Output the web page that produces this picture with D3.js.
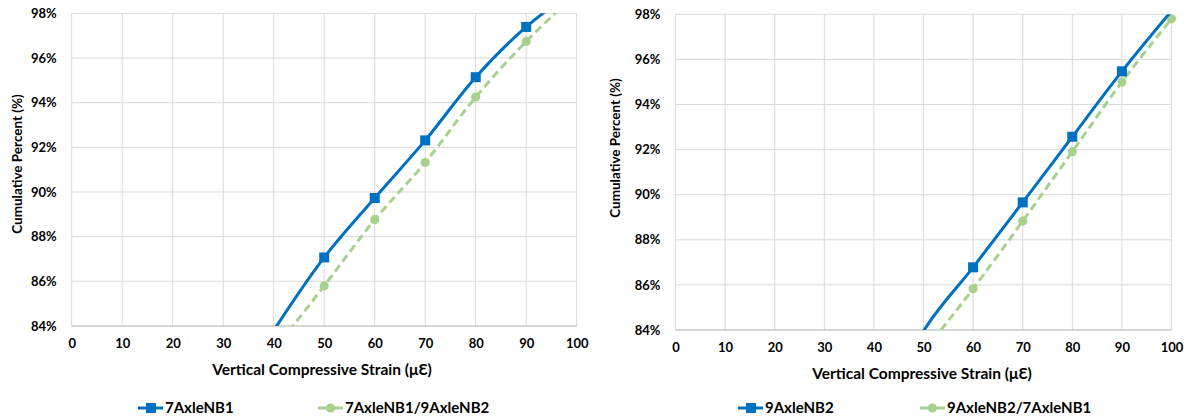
<!DOCTYPE html>
<html>
<head>
<meta charset="utf-8">
<script src="https://cdn.jsdelivr.net/npm/d3@7"></script>
<style>
  body { margin: 0; background: #fff; }
  svg { display: block; font-family: Lato, "Open Sans", sans-serif; font-weight: bold; }
</style>
</head>
<body>
<svg id="chart" width="1185" height="419"></svg>
<script>
// strain values (x), shared by both panels
const strain = [40, 50, 60, 70, 80, 90, 100];

// left panel series (cumulative %)
const left7AxleNB1 = [83.8, 87.07, 89.73, 92.31, 95.14, 97.39, 99.1];
const left7AxleNB1_9AxleNB2 = [82.9, 85.8, 88.76, 91.32, 94.25, 96.74, 98.9];

// right panel series (cumulative %)
const right9AxleNB2 = [79.1, 83.95, 86.78, 89.66, 92.57, 95.47, 98.15];
const right9AxleNB2_7AxleNB1 = [80.0, 83.0, 85.83, 88.83, 91.91, 95.0, 97.8];

const xTicks = [0, 10, 20, 30, 40, 50, 60, 70, 80, 90, 100];
const yTicks = [84, 86, 88, 90, 92, 94, 96, 98];

const xTitle = "Vertical Compressive Strain (\u03bc\u0190)";
const yTitle = "Cumulative Percent (%)";

const BLUE = "#0070C0";
const GREEN = "#A9D18E";
const GRID = "#D9D9D9";

const svg = d3.select("#chart");

function drawPanel(cfg) {
  const x = d3.scaleLinear().domain([0, 100]).range([cfg.x0, cfg.x1]);
  const y = d3.scaleLinear().domain([84, 98]).range([cfg.yBot, cfg.yTop]);
  const g = svg.append("g");

  // gridlines
  g.append("g")
    .selectAll("line.v")
    .data(xTicks)
    .join("line")
    .attr("x1", (d) => x(d))
    .attr("x2", (d) => x(d))
    .attr("y1", cfg.yTop)
    .attr("y2", cfg.yBot)
    .attr("stroke", GRID)
    .attr("stroke-width", 1);
  g.append("g")
    .selectAll("line.h")
    .data(yTicks)
    .join("line")
    .attr("x1", cfg.x0)
    .attr("x2", cfg.x1)
    .attr("y1", (d) => y(d))
    .attr("y2", (d) => y(d))
    .attr("stroke", (d) => (d === 84 ? "#C8C8C8" : GRID))
    .attr("stroke-width", (d) => (d === 84 ? 1.3 : 1));

  // axes (labels only)
  const xAxis = g
    .append("g")
    .attr("transform", `translate(0,${cfg.yBot + 13})`)
    .call(d3.axisBottom(x).tickValues(xTicks).tickSize(0).tickPadding(0));
  const yAxis = g
    .append("g")
    .attr("transform", `translate(${cfg.x0 - 15},0)`)
    .call(
      d3.axisLeft(y).tickValues(yTicks).tickSize(0).tickPadding(0)
        .tickFormat((d) => d + "%")
    );
  [xAxis, yAxis].forEach((a) => {
    a.select(".domain").remove();
    a.selectAll("text")
      .attr("fill", "#000")
      .attr("font-size", 13)
      .attr("font-family", "Lato, sans-serif")
      .attr("font-weight", "bold");
  });

  // titles
  g.append("text")
    .attr("x", cfg.xTitleX)
    .attr("y", cfg.yBot + 49)
    .attr("text-anchor", "middle")
    .attr("font-size", 15.5)
    .text(xTitle);
  g.append("text")
    .attr("transform", `translate(${cfg.yTitleX},${cfg.yTitleY}) rotate(-90)`)
    .attr("text-anchor", "middle")
    .attr("dominant-baseline", "central")
    .attr("font-size", 13.5)
    .text(yTitle);

  // clip for lines
  const clipId = "clip-" + cfg.id;
  svg.append("clipPath")
    .attr("id", clipId)
    .append("rect")
    .attr("x", cfg.x0)
    .attr("y", cfg.yTop)
    .attr("width", cfg.x1 - cfg.x0)
    .attr("height", cfg.yBot - cfg.yTop);

  const line = d3
    .line()
    .x((d) => x(d[0]))
    .y((d) => y(d[1]))
    .curve(d3.curveCatmullRom.alpha(0.5));

  const greenPts = strain.map((s, i) => [s, cfg.green[i]]);
  const bluePts = strain.map((s, i) => [s, cfg.blue[i]]);
  const inside = (d) => d[1] >= 84 && d[1] <= 98;

  g.append("path")
    .datum(greenPts)
    .attr("clip-path", `url(#${clipId})`)
    .attr("fill", "none")
    .attr("stroke", GREEN)
    .attr("stroke-width", 3)
    .attr("stroke-dasharray", "8,4.5")
    .attr("d", line);
  g.append("g")
    .selectAll("circle")
    .data(greenPts.filter(inside))
    .join("circle")
    .attr("cx", (d) => x(d[0]))
    .attr("cy", (d) => y(d[1]))
    .attr("r", 4.6)
    .attr("fill", GREEN);

  g.append("path")
    .datum(bluePts)
    .attr("clip-path", `url(#${clipId})`)
    .attr("fill", "none")
    .attr("stroke", BLUE)
    .attr("stroke-width", 3)
    .attr("d", line);
  g.append("g")
    .selectAll("rect")
    .data(bluePts.filter(inside))
    .join("rect")
    .attr("x", (d) => x(d[0]) - 5)
    .attr("y", (d) => y(d[1]) - 5)
    .attr("width", 10)
    .attr("height", 10)
    .attr("fill", BLUE);

  // legend
  const ly = 408;
  const lb = g.append("g").attr("transform", `translate(${cfg.legBlue},${ly})`);
  lb.append("line").attr("x1", 0).attr("x2", 25).attr("stroke", BLUE).attr("stroke-width", 3);
  lb.append("rect").attr("x", 8).attr("y", -5).attr("width", 10).attr("height", 10).attr("fill", BLUE);
  lb.append("text").attr("x", 27).attr("dy", "0.36em").attr("font-size", 15).text(cfg.blueName);

  const lg = g.append("g").attr("transform", `translate(${cfg.legGreen},${ly})`);
  lg.append("line").attr("x1", 0).attr("x2", 25).attr("stroke", GREEN).attr("stroke-width", 3);
  lg.append("circle").attr("cx", 12.5).attr("r", 4.6).attr("fill", GREEN);
  lg.append("text").attr("x", 27).attr("dy", "0.36em").attr("font-size", 15).text(cfg.greenName);
}

drawPanel({
  id: "left",
  x0: 71.7, x1: 576.7, yTop: 13.3, yBot: 326,
  xTitleX: 322, yTitleX: 17, yTitleY: 164,
  blue: left7AxleNB1, green: left7AxleNB1_9AxleNB2,
  blueName: "7AxleNB1", greenName: "7AxleNB1/9AxleNB2",
  legBlue: 138, legGreen: 318
});

drawPanel({
  id: "right",
  x0: 675.5, x1: 1171.5, yTop: 14.3, yBot: 330,
  xTitleX: 922, yTitleX: 615, yTitleY: 148,
  blue: right9AxleNB2, green: right9AxleNB2_7AxleNB1,
  blueName: "9AxleNB2", greenName: "9AxleNB2/7AxleNB1",
  legBlue: 738, legGreen: 920
});
</script>
</body>
</html>
